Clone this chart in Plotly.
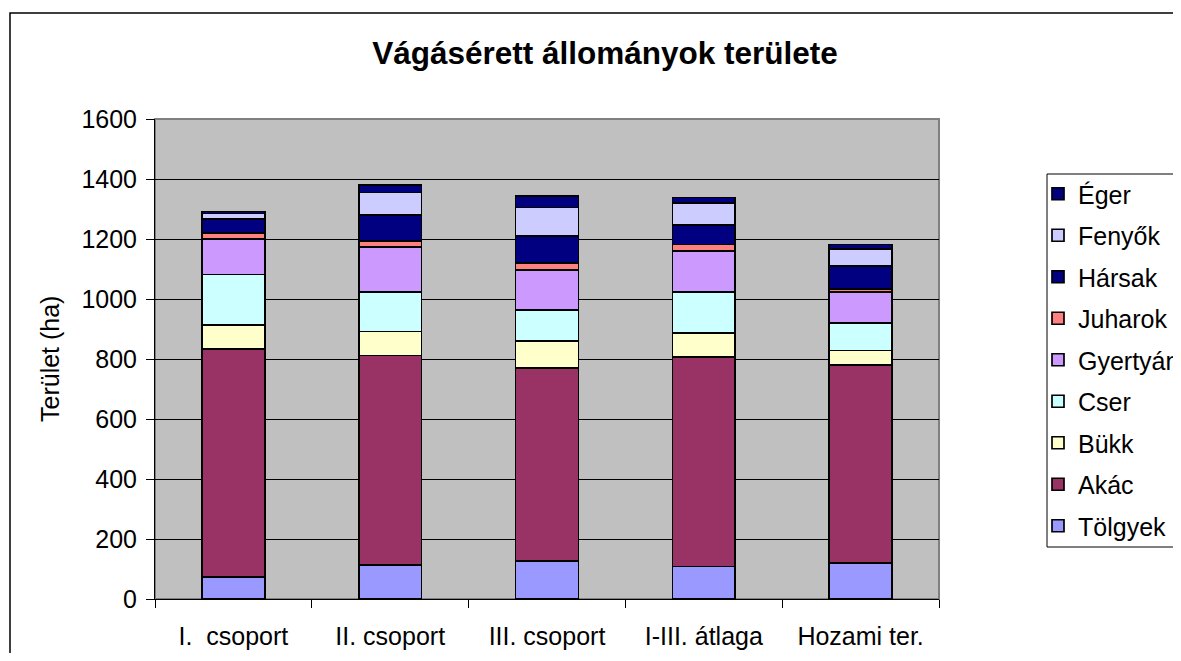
import plotly.graph_objects as go

categories = ["I.  csoport", "II. csoport", "III. csoport", "I-III. átlaga", "Hozami ter."]

tolgyek = [73, 113, 127, 108, 120]
akac = [760, 699, 642, 699, 660]
bukk = [80, 80, 91, 80, 48]
cser = [169, 132, 104, 137, 91]
gyertyan = [119, 149, 133, 137, 105]
juharok = [18, 20, 24, 21, 10]
harsak = [48, 88, 88, 65, 76]
fenyok = [18, 74, 96, 72, 57]
eger = [7, 24, 39, 19, 15]

series_names = ["Tölgyek", "Akác", "Bükk", "Cser", "Gyertyán", "Juharok", "Hársak", "Fenyők", "Éger"]
series_values = [tolgyek, akac, bukk, cser, gyertyan, juharok, harsak, fenyok, eger]
series_colors = ["#9999FF", "#993366", "#FFFFCC", "#CCFFFF", "#CC99FF", "#FF8080", "#000080", "#CCCCFF", "#000080"]

y_ticks = [0, 200, 400, 600, 800, 1000, 1200, 1400, 1600]

FONT = "Liberation Sans, Arial, sans-serif"
FS = 25

fig = go.Figure()
n = len(series_names)
for i, (name, vals, col) in enumerate(zip(series_names, series_values, series_colors)):
    fig.add_trace(go.Bar(
        x=categories, y=vals, name=name, legendgroup=name, legendrank=n - i,
        marker=dict(color=col, line=dict(color="black", width=1.7)),
    ))

# page has an 8px body margin; figure coords = reference pixel - 8
OFF = 8
W, H = 1173, 645
L, T = 147, 111
R = W - 931
B = H - 591
pw, ph = W - L - R, H - T - B

def px_x(p):
    return (p - OFF - L) / pw

def px_y(p):
    return (H - B - (p - OFF)) / ph

def open_box(x0, y0, x1, y1):
    # frame open on the right side (it runs past the visible page)
    return "M {a},{b} L {c},{b} L {c},{d} L {a},{d}".format(
        a=px_x(x1), b=px_y(y0), c=px_x(x0), d=px_y(y1))

fig.update_layout(
    width=W, height=H,
    barmode="stack", bargap=0.6,
    paper_bgcolor="white", plot_bgcolor="#C0C0C0",
    margin=dict(l=L, r=R, t=T, b=B, autoexpand=False),
    font=dict(family=FONT, size=FS, color="black"),
    title=dict(text="<b>Vágásérett állományok területe</b>", font=dict(size=31.5, family=FONT),
               x=(605 - OFF) / W, xref="container", xanchor="center",
               y=1 - (53 - OFF) / H, yref="container", yanchor="middle"),
    legend=dict(x=px_x(1038), y=px_y(171), xanchor="left", yanchor="top",
                traceorder="grouped", tracegroupgap=6,
                borderwidth=0, bgcolor="rgba(0,0,0,0)",
                font=dict(size=FS, family=FONT)),
    xaxis=dict(showline=True, linecolor="black", linewidth=1, ticks="outside", tickson="boundaries",
               ticklen=8, tickcolor="black", showgrid=False, ticklabelstandoff=15),
    yaxis=dict(range=[0, 1600], tickvals=y_ticks, showline=True, linecolor="black", linewidth=1,
               ticks="outside", ticklen=8, tickcolor="black", showgrid=True, gridcolor="black",
               gridwidth=1, zeroline=False, ticklabelstandoff=4),
    shapes=[
        dict(type="rect", xref="paper", yref="paper", x0=0, y0=0, x1=1, y1=1,
             line=dict(color="#808080", width=2), layer="below"),
        dict(type="path", xref="paper", yref="paper", path=open_box(10, 13, 1200, 690),
             line=dict(color="black", width=1.5), layer="below"),
        dict(type="path", xref="paper", yref="paper", path=open_box(1047, 174, 1200, 547),
             line=dict(color="black", width=1), layer="below"),
    ],
    annotations=[
        dict(text="Terület (ha)", xref="paper", yref="paper", x=px_x(50), y=px_y(359),
             textangle=-90, showarrow=False, xanchor="center", yanchor="middle",
             font=dict(size=FS, family=FONT)),
    ],
)

fig.write_html("out.html")
